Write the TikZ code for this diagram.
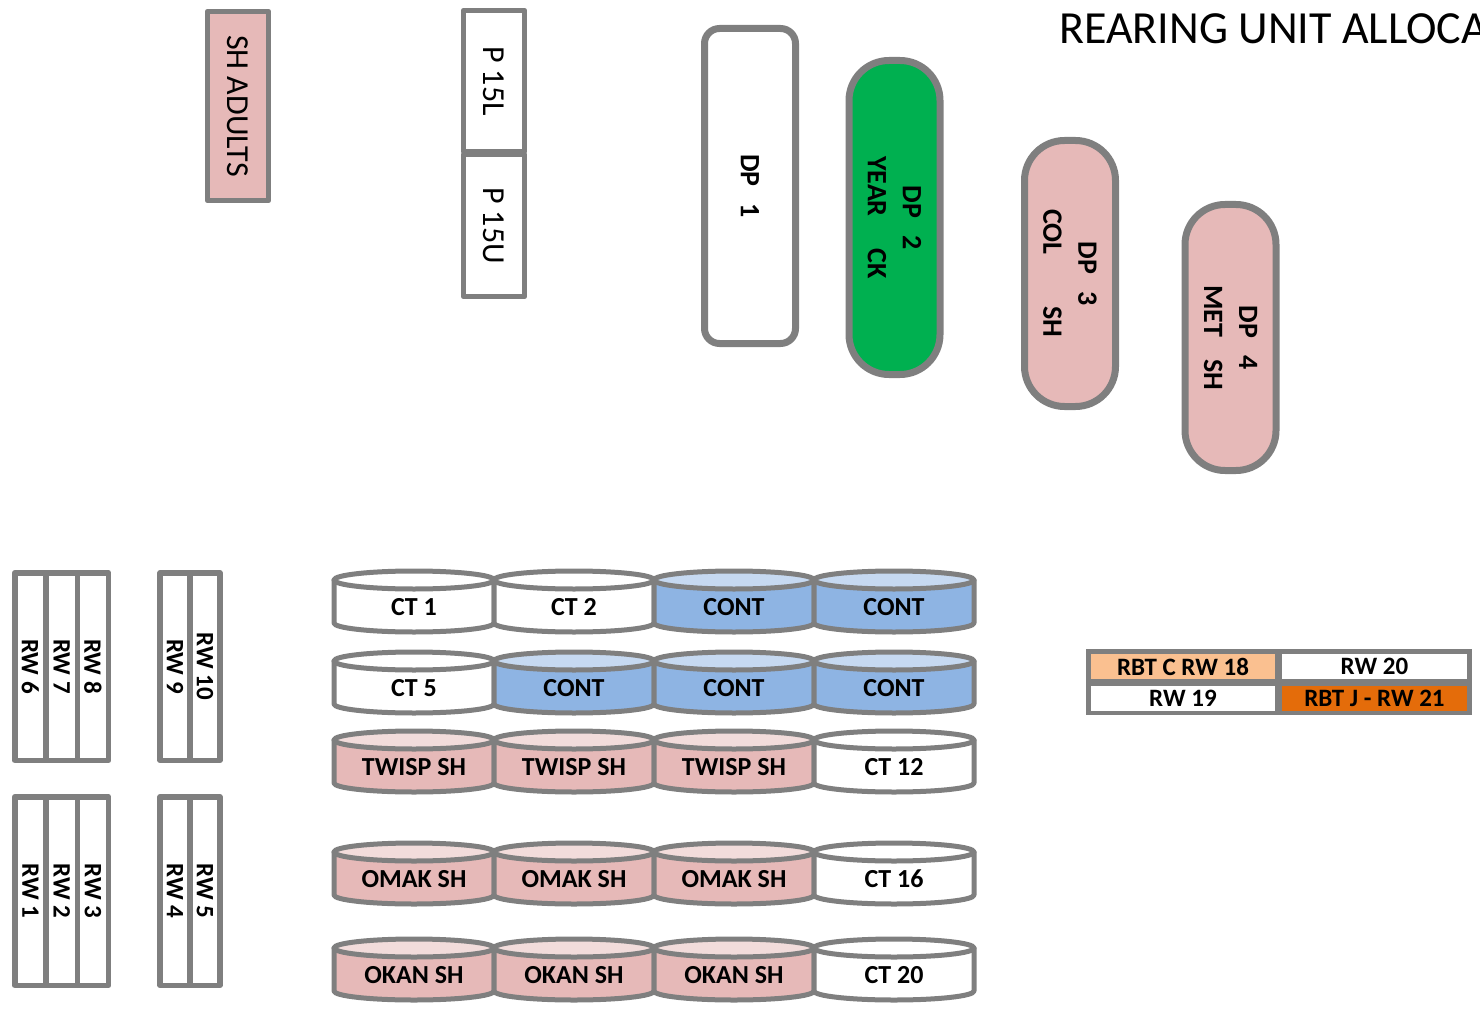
\documentclass[tikz,border=0pt]{standalone}
\usepackage{fontspec}
\setmainfont{Carlito}
\definecolor{edgegray}{HTML}{7F7F7F}
\definecolor{bodypink}{HTML}{E6B9B8}
\definecolor{toppink}{HTML}{F2DCDB}
\definecolor{bodyblue}{HTML}{8EB4E3}
\definecolor{topblue}{HTML}{C6D9F1}
\definecolor{bodywhite}{HTML}{FFFFFF}
\definecolor{topwhite}{HTML}{FFFFFF}
\definecolor{dpgreen}{HTML}{00B050}
\definecolor{rbtlight}{HTML}{FAC090}
\definecolor{rbtdark}{HTML}{E46C0A}
\begin{document}
\begin{tikzpicture}[
  x=1pt, y=1pt,
  line join=round,
  every node/.style={inner sep=0pt},
  wall/.style={draw=edgegray, line width=5.5pt},
  slab/.style={wall, rotate=-90, minimum height=61pt, font=\fontsize{32}{38}\selectfont},
  raceway/.style={wall, rotate=-90, font=\fontsize{25}{30}\selectfont\bfseries},
  pond/.style={draw=edgegray, line width=7pt, rotate=-90, rounded corners=40pt, minimum height=91pt,
    align=center, font=\fontsize{28}{35}\selectfont\bfseries},
  tanklabel/.style={font=\fontsize{26}{31}\selectfont\bfseries},
  cell/.style={minimum height=25pt, font=\fontsize{25}{30}\selectfont\bfseries}
]
\useasboundingbox (0,0) rectangle (1480,-1016);

% Titel
\begin{scope}
  \clip (0,0) rectangle (1480,-1016);
  \node[anchor=base west, font=\fontsize{46}{55}\selectfont] (title) at (1059,-44) {REARING UNIT ALLOCA};
\end{scope}

% Bovenste bakken en vijvers
\node[slab, fill=bodypink, minimum width=189pt] (adults) at (238,-106) {SH ADULTS};
\node[slab, fill=white, minimum width=141pt] (p15l) at (494,-81) {P 15L};
\node[slab, fill=white, minimum width=142pt] (p15u) at (494,-225.5) {P 15U};

\node[pond, fill=white, rounded corners=15pt, minimum width=315pt] (dp1) at (750,-186) {DP\hspace{17pt}1};
\node[pond, fill=dpgreen, minimum width=314pt] (dp2) at (894.5,-217.5)
  {DP\hspace{17pt}2\\YEAR\hspace{32pt}CK};
\node[pond, fill=bodypink, minimum width=266pt] (dp3) at (1070,-273.5)
  {DP\hspace{17pt}3\\COL\hspace{52pt}SH};
\node[pond, fill=bodypink, minimum width=266pt] (dp4) at (1230.5,-337.5)
  {DP\hspace{17pt}4\\MET\hspace{22pt}SH};

% Raceways
\foreach \rx/\ry/\len/\txt/\id in {30.4/666.5/187.5/RW 6/rw6, 61.7/666.5/187.5/RW 7/rw7, 93/666.5/187.5/RW 8/rw8,
    30.4/891/188.5/RW 1/rw1, 61.7/891/188.5/RW 2/rw2, 93/891/188.5/RW 3/rw3}
  \node[raceway, fill=white, minimum width=\len pt, minimum height=31.3pt] (\id) at (\rx,-\ry) {\txt};
\foreach \rx/\ry/\len/\txt/\id in {175/666.5/187.5/RW 9/rw9, 205/666.5/187.5/RW 10/rw10,
    175/891/188.5/RW 4/rw4, 205/891/188.5/RW 5/rw5}
  \node[raceway, fill=white, minimum width=\len pt, minimum height=30pt] (\id) at (\rx,-\ry) {\txt};

% Ronde tanks
\foreach \cx/\ty/\kind/\txt/\id in {
    414/607/white/CT 1/t11, 574/607/white/CT 2/t12, 734/607/blue/CONT/t13, 894/607/blue/CONT/t14,
    414/688/white/CT 5/t21, 574/688/blue/CONT/t22, 734/688/blue/CONT/t23, 894/688/blue/CONT/t24,
    414/767/pink/TWISP SH/t31, 574/767/pink/TWISP SH/t32, 734/767/pink/TWISP SH/t33, 894/767/white/CT 12/t34,
    414/879/pink/OMAK SH/t41, 574/879/pink/OMAK SH/t42, 734/879/pink/OMAK SH/t43, 894/879/white/CT 16/t44,
    414/975/pink/OKAN SH/t51, 574/975/pink/OKAN SH/t52, 734/975/pink/OKAN SH/t53, 894/975/white/CT 20/t54}
{
  \filldraw[draw=edgegray, line width=5pt, fill=body\kind] (\cx-80,-\ty+27) -- (\cx-80,-\ty-16)
    arc[start angle=180, end angle=360, x radius=80, y radius=9] -- (\cx+80,-\ty+27) -- cycle;
  \filldraw[draw=edgegray, line width=5pt, fill=top\kind] (\cx,-\ty+27) ellipse[x radius=80, y radius=9];
  \node[tanklabel] (\id) at (\cx,-\ty) {\txt};
}

% RBT raceways
\node[fill=edgegray, minimum width=386pt, minimum height=66pt] (rbtframe) at (1279,-682) {};
\node[cell, fill=rbtlight, minimum width=184pt] (rw18) at (1183,-666.5) {RBT C RW 18};
\node[cell, fill=white, minimum width=185pt] (rw20) at (1374.5,-666.5) {RW 20};
\node[cell, fill=white, minimum width=184pt] (rw19) at (1183,-698.5) {RW 19};
\node[cell, fill=rbtdark, minimum width=185pt] (rw21) at (1374.5,-698.5) {RBT J - RW 21};

\end{tikzpicture}
\end{document}
